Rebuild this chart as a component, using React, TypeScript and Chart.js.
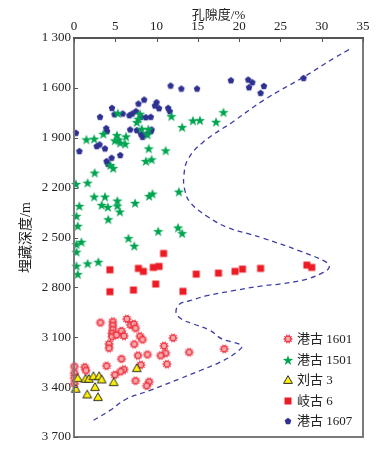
import React, { useEffect, useRef } from 'react';
import { Chart, registerables } from 'chart.js';

Chart.register(...registerables);

// ---------- data ----------
const seriesLabels = ['港古 1601', '港古 1501', '刘古 3', '岐古 6', '港古 1607'];
const xTickValues = [0, 5, 10, 15, 20, 25, 30, 35];
const yTickValues = [1300, 1600, 1900, 2200, 2500, 2800, 3100, 3400, 3700];
const xTitle = '孔隙度/%';
const yTitle = '埋藏深度/m';

// [porosity %, depth m]
const ganggu1601: [number, number][] = [
  [3.2, 3012], [4.7, 3006], [4.7, 3030], [4.7, 3054], [4.6, 3076], [4.6, 3096], [4.25, 3140], [4.25, 3166],
  [5.15, 3086], [5.75, 3062], [6.05, 3092], [6.4, 2990], [6.85, 3026], [7.25, 3020], [7.45, 3046], [7.3, 3142],
  [8.0, 3094], [8.3, 3114], [5.75, 3230], [3.95, 3272], [6.05, 3294], [5.65, 3306], [4.95, 3326], [7.75, 3210],
  [8.9, 3204], [8.1, 3266], [7.45, 3362], [9.1, 3368], [8.8, 3392], [10.9, 3152], [11.1, 3196], [10.5, 3210],
  [11.25, 3262], [12.0, 3104], [13.95, 3190], [18.2, 3170], [0.05, 3276], [0.05, 3316], [0.05, 3344], [0.05, 3380],
  [1.3, 3280], [1.45, 3300],
];
const ganggu1501: [number, number][] = [
  [1.5, 1910], [2.45, 1906], [3.55, 1876], [5.3, 1752], [5.2, 1884], [5.4, 1910], [4.95, 1916], [5.6, 1930],
  [6.2, 1936], [6.3, 1892], [7.6, 1806], [7.8, 1786], [8.0, 1756], [8.2, 1846], [9.0, 1848], [8.9, 1880],
  [9.05, 1964], [8.7, 2040], [9.4, 2030], [11.1, 1976], [11.8, 1770], [13.1, 1836], [14.4, 1796], [15.25, 1794],
  [17.2, 1804], [18.1, 1746], [4.4, 2064], [4.75, 2082], [2.5, 2110], [1.65, 2170], [0.24, 2178], [0.65, 2310],
  [0.3, 2370], [0.45, 2430], [2.45, 2254], [3.75, 2254], [3.35, 2304], [4.1, 2316], [5.25, 2278], [5.25, 2308],
  [5.55, 2344], [4.15, 2390], [7.4, 2292], [9.1, 2250], [9.5, 2236], [12.7, 2224], [6.6, 2504], [7.3, 2550],
  [10.2, 2462], [12.6, 2440], [13.1, 2474], [0.3, 2540], [0.9, 2526], [0.3, 2586], [0.3, 2670], [0.45, 2720],
  [1.65, 2656], [2.95, 2646],
];
const liugu3: [number, number][] = [
  [0.2, 3410], [0.45, 3346], [1.4, 3350], [1.8, 3350], [2.35, 3334], [3.05, 3334], [3.35, 3354], [4.8, 3370],
  [7.6, 3286], [2.55, 3400], [1.6, 3444], [2.9, 3460],
];
const qigu6: [number, number][] = [
  [4.35, 2694], [7.8, 2686], [8.4, 2704], [9.6, 2680], [10.3, 2674], [10.85, 2596], [4.35, 2826], [7.2, 2816],
  [9.9, 2780], [13.2, 2824], [14.8, 2720], [17.5, 2714], [19.5, 2704], [20.4, 2690], [22.6, 2686], [28.2, 2666],
  [28.8, 2680],
];
const ganggu1607: [number, number][] = [
  [11.7, 1586], [13.0, 1604], [14.9, 1604], [19.0, 1554], [21.1, 1550], [21.6, 1566], [21.2, 1596], [23.0, 1588],
  [22.6, 1630], [27.8, 1540], [10.0, 1686], [9.8, 1706], [10.3, 1722], [11.4, 1720], [11.6, 1740], [9.3, 1774],
  [9.3, 1860], [0.24, 1870], [0.65, 1980], [3.15, 1774], [3.9, 1842], [4.0, 1860], [2.75, 1950], [3.1, 1940],
  [3.75, 1964], [3.95, 2040], [4.1, 2056], [4.55, 2020], [5.6, 2004], [4.6, 1720], [4.9, 1758], [5.9, 1754],
  [6.7, 1764], [7.05, 1754], [7.5, 1740], [7.8, 1694], [8.5, 1670], [8.1, 1774], [8.7, 1776], [6.8, 1850],
  [7.6, 1854], [8.1, 1876], [8.3, 1894], [8.8, 1878], [9.4, 1850],
];
// dashed envelope line
const envelope: [number, number][] = [
  [33.3, 1370], [31.6, 1418], [27.7, 1538], [23.1, 1670], [19.3, 1802], [15.6, 1928], [13.8, 2030], [13.3, 2132],
  [13.4, 2210], [14.05, 2288], [16.1, 2372], [18.5, 2438], [21.3, 2480], [22.9, 2504], [27.4, 2582], [30.6, 2650],
  [30.9, 2680], [30.2, 2710], [28.2, 2750], [24.9, 2780], [22.9, 2790], [19.3, 2820], [16.1, 2850], [14.05, 2880],
  [12.8, 2900], [12.35, 2950], [13.0, 2990], [14.45, 3020], [16.5, 3060], [17.9, 3110], [20.3, 3150], [19.7, 3190],
  [17.7, 3250], [15.3, 3300], [12.8, 3350], [9.2, 3420], [6.4, 3470], [4.35, 3540], [2.15, 3606],
];

const FONT = '"Liberation Serif", "Noto Sans CJK SC", serif';
const AXIS_COLOR = '#7a7a7a';

function makeMarker(kind: string): HTMLCanvasElement {
  const c = document.createElement('canvas');
  c.width = 14;
  c.height = 14;
  const g = c.getContext('2d')!;
  const cx = 7, cy = 7;
  g.beginPath();
  if (kind === 'flower') {
    const n = 72;
    for (let i = 0; i <= n; i++) {
      const t = (i / n) * Math.PI * 2;
      const r = 4.0 + 0.75 * Math.cos(10 * t);
      const x = cx + r * Math.cos(t), y = cy + r * Math.sin(t);
      if (i === 0) g.moveTo(x, y); else g.lineTo(x, y);
    }
    g.closePath();
    g.fillStyle = '#ee3441';
    g.fill();
    g.beginPath();
    g.arc(cx, cy, 2.3, 0, Math.PI * 2);
    g.fillStyle = '#f7a7ab';
    g.fill();
  } else if (kind === 'star') {
    for (let i = 0; i < 10; i++) {
      const t = -Math.PI / 2 + (i * Math.PI) / 5;
      const r = i % 2 === 0 ? 5.4 : 2.2;
      const x = cx + r * Math.cos(t), y = cy + 0.6 + r * Math.sin(t);
      if (i === 0) g.moveTo(x, y); else g.lineTo(x, y);
    }
    g.closePath();
    g.fillStyle = '#00a551';
    g.fill();
  } else if (kind === 'triangle') {
    g.moveTo(cx, cy - 4.3);
    g.lineTo(cx + 4.4, cy + 3.4);
    g.lineTo(cx - 4.4, cy + 3.4);
    g.closePath();
    g.fillStyle = '#fff200';
    g.fill();
    g.lineWidth = 1;
    g.strokeStyle = '#2b2b2b';
    g.stroke();
  } else if (kind === 'square') {
    g.rect(cx - 3.5, cy - 3.5, 7, 7);
    g.fillStyle = '#ed1c24';
    g.fill();
  } else {
    for (let i = 0; i < 5; i++) {
      const t = -Math.PI / 2 + (i * 2 * Math.PI) / 5;
      const r = 3.5;
      const x = cx + r * Math.cos(t), y = cy + 0.3 + r * Math.sin(t);
      if (i === 0) g.moveTo(x, y); else g.lineTo(x, y);
    }
    g.closePath();
    g.fillStyle = '#2e3191';
    g.fill();
  }
  return c;
}

const fmtDepth = (v: number) => {
  const th = Math.floor(v / 1000);
  const rest = String(Math.round(v % 1000)).padStart(3, '0');
  return th > 0 ? `${th} ${rest}` : String(v);
};

export default function App() {
  const ref = useRef<HTMLCanvasElement>(null);
  useEffect(() => {
    document.body.style.margin = '0';
    const markers = ['flower', 'star', 'triangle', 'square', 'pentagon'].map(makeMarker);
    const series = [ganggu1601, ganggu1501, liugu3, qigu6, ganggu1607];
    const orders = [3, 2, 1, 1, 4];

    const decorPlugin = {
      id: 'innerLegend',
      afterDraw(chart: any) {
        const { ctx, chartArea: a, scales } = chart;
        // frame + inward ticks
        ctx.save();
        ctx.setLineDash([]);
        ctx.globalAlpha = 1;
        ctx.globalCompositeOperation = 'source-over';
        ctx.fillStyle = AXIS_COLOR;
        const L = Math.round(a.left), R = Math.round(a.right), T = Math.round(a.top), B = Math.round(a.bottom);
        ctx.fillRect(L - 1, T - 1, 2, B - T + 2);
        ctx.fillRect(R - 1, T - 1, 2, B - T + 2);
        ctx.fillRect(L - 1, B - 1, R - L + 2, 2);
        ctx.fillStyle = '#555';
        ctx.fillRect(L - 1, T - 1, R - L + 2, 2);
        for (const v of xTickValues) {
          const x = Math.round(scales.x.getPixelForValue(v));
          ctx.fillRect(x, T, 1, 4);
        }
        ctx.fillStyle = '#555';
        for (const v of yTickValues) {
          const y = Math.round(scales.y.getPixelForValue(v));
          ctx.fillRect(L, y, 4, 1);
        }
        ctx.restore();

        // legend
        ctx.save();
        ctx.font = `13px ${FONT}`;
        ctx.fillStyle = '#222';
        ctx.textBaseline = 'middle';
        ctx.textAlign = 'left';
        const x0 = a.right - 75;
        const y0 = a.bottom - 98;
        seriesLabels.forEach((lab, i) => {
          const y = y0 + i * 20.6;
          ctx.drawImage(markers[i], Math.round(x0 - 7), Math.round(y - 7));
          ctx.fillText(lab, x0 + 9, y + 0.5);
        });
        ctx.restore();
      },
    };

    const datasets: any[] = series.map((s, i) => ({
      type: 'scatter',
      label: seriesLabels[i],
      data: s.map(([x, y]) => ({ x, y })),
      pointStyle: markers[i],
      pointRadius: 5,
      clip: false,
      order: orders[i],
    }));
    datasets.push({
      type: 'line',
      label: 'envelope',
      data: envelope.map(([x, y]) => ({ x, y })),
      borderColor: '#3d3da6',
      borderWidth: 1.3,
      borderDash: [5, 4],
      pointRadius: 0,
      tension: 0.4,
      fill: false,
      order: 5,
    });

    const tickFont = { family: FONT, size: 13 };

    const chart = new Chart(ref.current!, {
      type: 'scatter',
      data: { datasets },
      plugins: [decorPlugin],
      options: {
        animation: false,
        responsive: false,
        layout: { padding: { left: 0, top: 0, right: 13, bottom: 12 } },
        plugins: { legend: { display: false }, tooltip: { enabled: false } },
        scales: {
          x: {
            type: 'linear',
            position: 'top',
            min: 0,
            max: 35,
            afterBuildTicks: (s: any) => { s.ticks = xTickValues.map((v) => ({ value: v })); },
            afterFit: (s: any) => { s.height = 38; },
            grid: { display: false, drawTicks: false },
            border: { display: false },
            ticks: { padding: 4, color: '#222', font: tickFont },
            title: {
              display: true,
              text: xTitle,
              color: '#222',
              font: tickFont,
              padding: { top: 8, bottom: 0 },
            },
          },
          y: {
            type: 'linear',
            reverse: true,
            min: 1300,
            max: 3700,
            afterBuildTicks: (s: any) => { s.ticks = yTickValues.map((v) => ({ value: v })); },
            afterFit: (s: any) => { s.width = 74; },
            grid: { display: false, drawTicks: false },
            border: { display: false },
            ticks: {
              padding: 3,
              color: '#222',
              font: tickFont,
              callback: (v: any) => fmtDepth(Number(v)),
            },
            title: {
              display: true,
              text: yTitle,
              color: '#222',
              font: { family: FONT, size: 14 },
              padding: { top: 18, bottom: 0 },
            },
          },
        },
      },
    } as any);
    return () => chart.destroy();
  }, []);
  return (
    <div style={{ width: 376, height: 449, background: '#fff' }}>
      <canvas ref={ref} width={376} height={449} style={{ display: 'block' }} />
    </div>
  );
}
